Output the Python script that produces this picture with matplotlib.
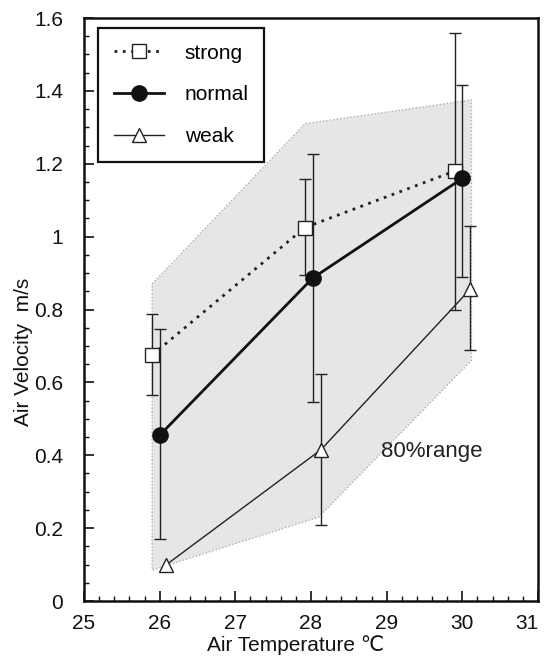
import matplotlib
matplotlib.use("Agg")
import matplotlib.pyplot as plt
from matplotlib.ticker import MultipleLocator
import numpy as np

plt.rcParams['font.family'] = ['Liberation Sans', 'DejaVu Sans']

# air velocity vs air temperature, three draught preference groups
strong_x = [25.9, 27.92, 29.9]
strong_y = [0.675, 1.025, 1.18]
strong_lo = [0.565, 0.895, 0.80]
strong_hi = [0.788, 1.158, 1.56]

normal_x = [26.0, 28.02, 30.0]
normal_y = [0.455, 0.886, 1.16]
normal_lo = [0.170, 0.546, 0.89]
normal_hi = [0.746, 1.227, 1.416]

weak_x = [26.09, 28.13, 30.1]
weak_y = [0.10, 0.415, 0.855]
weak_lo = [np.nan, 0.209, 0.69]
weak_hi = [np.nan, 0.623, 1.03]

# 80% range envelope
range_x = [25.9, 27.92, 30.12, 30.12, 28.1, 25.9]
range_y = [0.87, 1.31, 1.375, 0.66, 0.23, 0.085]

x_ticks = [25, 26, 27, 28, 29, 30, 31]
y_ticks = [0, 0.2, 0.4, 0.6, 0.8, 1.0, 1.2, 1.4, 1.6]
y_ticklabels = ['0', '0.2', '0.4', '0.6', '0.8', '1', '1.2', '1.4', '1.6']

FS = 15

fig = plt.figure(figsize=(5.48, 6.65), dpi=100)
ax = fig.add_axes([0.1533, 0.0962, 0.8285, 0.8767])

ax.fill(range_x, range_y, facecolor='#e6e6e6', edgecolor='#b0b0b0',
        linestyle=(0, (1, 1.5)), linewidth=1.0, zorder=1)


def errbars(x, y, lo, hi):
    x, y, lo, hi = map(np.asarray, (x, y, lo, hi))
    ok = ~np.isnan(lo)
    ax.errorbar(x[ok], y[ok], yerr=[y[ok] - lo[ok], hi[ok] - y[ok]],
                fmt='none', ecolor='#222222', elinewidth=1.0,
                capsize=4, capthick=1.0, zorder=2)


errbars(strong_x, strong_y, strong_lo, strong_hi)
errbars(normal_x, normal_y, normal_lo, normal_hi)
errbars(weak_x, weak_y, weak_lo, weak_hi)

ax.plot(strong_x, strong_y, color='#222222', linestyle=(0, (1, 2)), lw=2.0,
        marker='s', markersize=10, markerfacecolor='white',
        markeredgecolor='#222222', markeredgewidth=1.0, label='strong', zorder=3)
ax.plot(normal_x, normal_y, color='#111111', linestyle='-', lw=2.0,
        marker='o', markersize=11, markerfacecolor='#111111',
        markeredgecolor='#111111', label='normal', zorder=3)
ax.plot(weak_x, weak_y, color='#222222', linestyle='-', lw=1.0,
        marker='^', markersize=10, markerfacecolor='white',
        markeredgecolor='#222222', markeredgewidth=1.0, label='weak', zorder=3)

ax.text(29.6, 0.41, '80%range', fontsize=16, ha='center', va='center',
        color='#222222', zorder=4)

ax.set_xlim(25, 31)
ax.set_ylim(0, 1.6)
ax.set_xticks(x_ticks)
ax.set_xticklabels([str(t) for t in x_ticks])
ax.xaxis.set_minor_locator(MultipleLocator(0.2))
ax.set_yticks(y_ticks)
ax.set_yticklabels(y_ticklabels)
ax.yaxis.set_minor_locator(MultipleLocator(0.05))

ax.tick_params(which='both', direction='in', top=False, right=False,
               labelsize=FS, color='#111111', labelcolor='#111111')
ax.tick_params(which='major', length=7, width=1.2)
ax.tick_params(which='minor', length=3.5, width=1.0)
ax.tick_params(axis='y', which='major', pad=15)
ax.tick_params(axis='x', which='major', pad=9)
for s in ax.spines.values():
    s.set_linewidth(1.8)
    s.set_color('#111111')

# pull the "31" label in so it stays on the canvas
for lab in ax.get_xticklabels():
    if lab.get_text() == '31':
        lab.set_horizontalalignment('right')
        lab.set_x(31.1)

ax.set_xlabel('Air Temperature ℃', fontsize=FS, color='#111111')
ax.set_ylabel('Air Velocity  m/s', fontsize=FS, color='#111111')
ax.xaxis.set_label_coords(0.465, -0.058)
ax.yaxis.set_label_coords(-0.113, 0.427)

leg = ax.legend(loc='upper left', bbox_to_anchor=(0.031, 0.983),
                borderaxespad=0, fontsize=FS, handlelength=2.4,
                labelspacing=1.1, handletextpad=1.0, borderpad=0.75,
                fancybox=False, framealpha=1, edgecolor='#111111')
leg.get_frame().set_linewidth(1.6)

fig.savefig('out.png', dpi=100)
